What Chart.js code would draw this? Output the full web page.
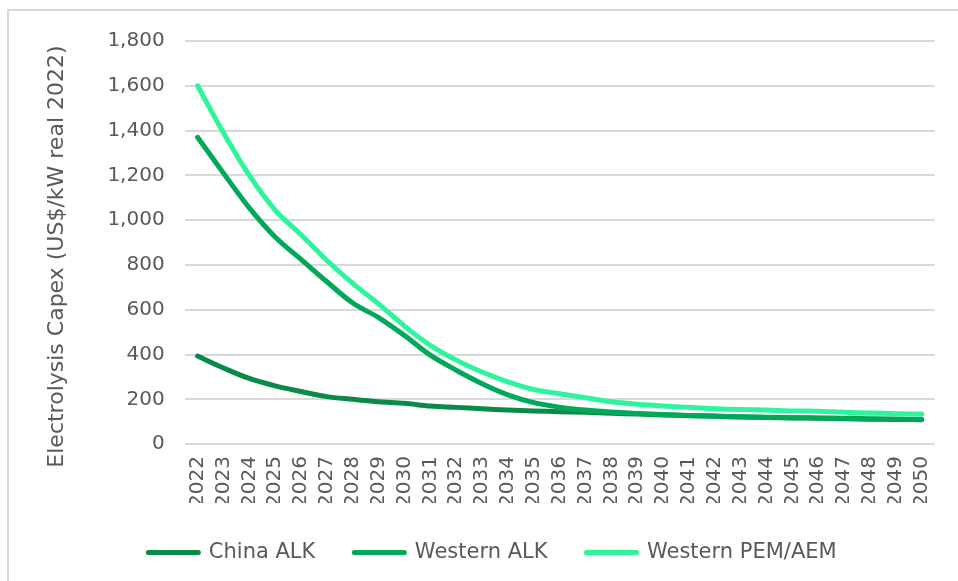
<!DOCTYPE html>
<html>
<head>
<meta charset="utf-8">
<script src="https://cdn.jsdelivr.net/npm/chart.js@4/dist/chart.umd.min.js"></script>
<style>
  html, body { margin: 0; padding: 0; background: #ffffff; overflow: hidden; }
  #wrap { position: absolute; left: 0; top: 0; width: 958px; height: 581px; }
  #frame { position: absolute; left: 7px; top: 9px; width: 1000px; height: 1000px;
           border-left: 2px solid #d9d9d9; border-top: 2px solid #d9d9d9; pointer-events: none; }
</style>
</head>
<body>
<div id="frame"></div>
<div id="wrap"><canvas id="chart" width="958" height="581"></canvas></div>
<script>
// Electrolyser capital cost outlook, US$/kW (real 2022)
const years = ['2022','2023','2024','2025','2026','2027','2028','2029','2030','2031',
               '2032','2033','2034','2035','2036','2037','2038','2039','2040','2041',
               '2042','2043','2044','2045','2046','2047','2048','2049','2050'];

const chinaAlk = [393, 340, 293, 260, 235, 212, 200, 189, 182, 170,
                  164, 158, 152, 148, 145, 142, 138, 134, 130, 127,
                  124, 121, 119, 117, 115, 113, 111, 110, 109];

const westernAlk = [1370, 1210, 1055, 925, 825, 725, 630, 565, 485, 397,
                    330, 270, 220, 185, 165, 152, 143, 137, 132, 128,
                    125, 122, 120, 118, 117, 115, 113, 112, 111];

const westernPemAem = [1600, 1390, 1200, 1045, 935, 820, 718, 626, 527, 441,
                       375, 322, 278, 244, 225, 207, 189, 178, 170, 164,
                       158, 154, 152, 148, 147, 142, 139, 136, 134];

const seriesNames = ['China ALK', 'Western ALK', 'Western PEM/AEM'];
const seriesColors = ['#0a8a48', '#00a85a', '#2ef59d'];
const yTicks = [0, 200, 400, 600, 800, 1000, 1200, 1400, 1600, 1800];

const textColor = '#595959';
const fontFamily = '"DejaVu Sans", Verdana, sans-serif';

function lineDataset(label, data, color, order) {
  return {
    label: label,
    data: data,
    borderColor: color,
    backgroundColor: color,
    borderWidth: 5,
    borderCapStyle: 'round',
    borderJoinStyle: 'round',
    pointRadius: 0,
    pointHoverRadius: 0,
    tension: 0.35,
    fill: false,
    order: order
  };
}

// Centre the value-axis title on the plot plus the year labels below it
function lowerAxisTitle(scale) {
  if (scale._titleLowered) return;
  const drawTitle = scale.drawTitle.bind(scale);
  scale.drawTitle = function () {
    this.ctx.save();
    this.ctx.translate(0, 14);
    drawTitle();
    this.ctx.restore();
  };
  scale._titleLowered = true;
}

new Chart(document.getElementById('chart'), {
  type: 'line',
  data: {
    labels: years,
    datasets: [
      lineDataset(seriesNames[0], chinaAlk, seriesColors[0], 3),
      lineDataset(seriesNames[1], westernAlk, seriesColors[1], 2),
      lineDataset(seriesNames[2], westernPemAem, seriesColors[2], 1)
    ]
  },
  options: {
    responsive: false,
    animation: false,
    devicePixelRatio: 1,
    layout: { padding: { left: 44, right: 17, top: 41, bottom: 8 } },
    plugins: {
      tooltip: { enabled: false },
      legend: {
        position: 'bottom',
        align: 'center',
        labels: {
          color: textColor,
          font: { family: fontFamily, size: 21 },
          boxWidth: 50,
          boxHeight: 0,
          padding: 39,
          sort: (a, b) => a.datasetIndex - b.datasetIndex,
          generateLabels(chart) {
            const items = Chart.defaults.plugins.legend.labels.generateLabels(chart);
            items.forEach(it => { it.lineWidth = 5; it.lineJoin = 'round'; });
            return items;
          }
        }
      }
    },
    scales: {
      x: {
        offset: true,
        grid: { display: false, drawTicks: false },
        border: { display: false },
        afterFit(scale) { scale.height -= 16; },
        ticks: {
          color: textColor,
          font: { family: fontFamily, size: 20 },
          maxRotation: 90,
          minRotation: 90,
          autoSkip: false,
          padding: 12
        }
      },
      y: {
        min: 0,
        max: 1800,
        afterBuildTicks(scale) { scale.ticks = yTicks.map(v => ({ value: v })); },
        afterFit: lowerAxisTitle,
        grid: { color: '#d9d9d9', lineWidth: 2, drawTicks: false },
        border: { display: false },
        ticks: {
          color: textColor,
          font: { family: fontFamily, size: 20 },
          padding: 20,
          callback: v => v.toLocaleString('en-US')
        },
        title: {
          display: true,
          text: 'Electrolysis Capex (US$/kW real 2022)',
          color: textColor,
          font: { family: fontFamily, size: 22 },
          padding: { top: 0, bottom: 17 }
        }
      }
    }
  }
});
</script>
</body>
</html>
